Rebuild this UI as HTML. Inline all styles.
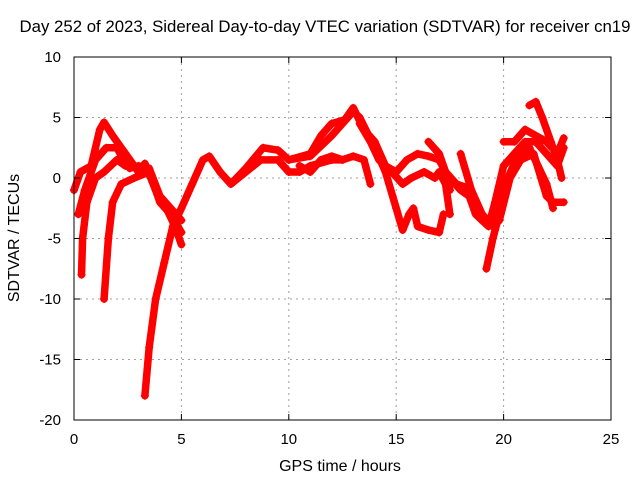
<!DOCTYPE html>
<html><head><meta charset="utf-8"><style>
body{margin:0;background:#fff}
svg{display:block;font-family:"Liberation Sans",sans-serif;font-size:15px}
</style></head><body>
<svg id="chart" width="640" height="480" viewBox="0 0 640 480">
<rect width="640" height="480" fill="#fff"/>
<text x="325" y="32" text-anchor="middle" font-size="16.8" textLength="611" lengthAdjust="spacingAndGlyphs">Day 252 of 2023, Sidereal Day-to-day VTEC variation (SDTVAR) for receiver cn19</text>
<g id="grid"></g>
<g id="series"></g>
<rect x="74" y="57" width="537" height="363" fill="none" stroke="#000" stroke-width="1"/>
<g id="axes"></g>
<text x="340" y="471" text-anchor="middle" font-size="16">GPS time / hours</text>
<text x="19" y="238" text-anchor="middle" font-size="16" transform="rotate(-90 19 238)">SDTVAR / TECUs</text>
</svg>
<script>
const xTicks=[0,5,10,15,20,25];
const yTicks=[-20,-15,-10,-5,0,5,10];
const track1=[[0,-1],[0.3,0.5],[0.8,1],[1.2,4],[1.4,4.6],[1.8,3.5],[2.2,2.5],[2.6,1.5],[3.0,0.5],[3.3,1.2],[3.8,-1],[4.3,-2.5],[4.7,-4],[5,-5.5]];
const track2=[[0.2,-3],[0.5,-1],[1.0,1.5],[1.5,2.5],[2.0,2.5],[2.3,1.5],[2.6,0.8],[3.0,1],[3.5,0.8],[4,-1.5],[4.5,-2.5],[5,-3.5]];
const track3=[[0.35,-8],[0.4,-5],[0.6,-2],[1.0,0],[1.4,0.5],[2,1.5],[2.4,1]];
const track4=[[1.4,-10],[1.6,-5],[1.8,-2],[2.2,-0.5],[2.8,0],[3.5,0.5],[4,-2],[4.5,-3],[5,-4.5]];
const track5=[[3.3,-18],[3.5,-14],[3.8,-10],[4.2,-7],[4.6,-4],[5,-2.5],[5.5,-0.5],[6,1.5],[6.3,1.8],[6.8,0.5],[7.3,-0.5],[8,0.5],[8.7,1.5],[9.5,1.5],[10,0.5],[10.5,0.5],[11,1],[12,1.5],[12.5,1.5]];
const track6=[[7.3,-0.5],[8,0.8],[8.8,2.5],[9.5,2.3],[10,1.5],[11,1.8],[12,3.5],[12.5,4.5],[13,5.5],[13.3,5],[14,2.5],[14.5,0.5],[15,-2.5],[15.3,-4.3],[15.6,-3],[15.8,-2.5],[16,-4],[16.5,-4.3],[17,-4.5],[17.2,-3]];
const track7=[[10,1.5],[11,2],[11.5,3.5],[12,4.5],[12.6,4.8],[13,5.8],[13.5,4],[14,3],[14.5,1],[15,0.5],[15.5,1.5],[16,2],[16.5,1.8],[17,1.5],[17.3,0.5],[17.5,-1]];
const track8=[[10.5,1],[11,0.5],[11.5,1.5],[12,1.8],[12.5,1.5],[13,1.8],[13.5,1.5],[13.8,-0.5]];
const track9=[[13.3,4.5],[13.8,3],[14.2,1.5],[14.8,0.5],[15.3,-0.5],[15.7,0],[16.3,0.5],[16.8,0],[17,0.5],[17.3,-0.5],[17.5,-3]];
const track10=[[16.5,3],[17,2],[17.3,0.5],[17.8,-0.5],[18.3,-0.8]];
const track11=[[17.5,0],[18,-1],[18.4,-1.5],[18.7,-3],[19,-3.5],[19.3,-4],[19.6,-2],[20,1],[20.5,2],[21,3],[21.5,3],[22,2],[22.5,1],[22.8,2.5]];
const track12=[[18,2],[18.5,-1],[19,-3],[19.5,-4],[19.8,-3.5],[20.3,0],[20.8,1.5],[21.4,2],[22,-1.5],[22.3,-2],[22.8,-2]];
const track13=[[19.2,-7.5],[19.5,-5],[19.8,-3],[20.2,0],[20.7,2],[21.2,2.5],[21.6,1],[22,-0.5],[22.3,-2.5]];
const track14=[[21.2,6],[21.5,6.3],[21.8,5],[22.2,3],[22.5,1.5],[22.7,0]];
const track15=[[20,3],[20.5,3],[21,4],[21.5,3.5],[22,3],[22.5,2],[22.8,3.3]];
const tracks=[track1,track2,track3,track4,track5,track6,track7,track8,track9,track10,track11,track12,track13,track14,track15];
const NS='http://www.w3.org/2000/svg';
const X0=74,X1=611,Y0=420,Y1=57;
function xs(t){return X0+(t-0)/(25-0)*(X1-X0);}
function ys(v){return Y0-(v+20)/(10+20)*(Y0-Y1);}
const grid=document.getElementById('grid'),axes=document.getElementById('axes'),series=document.getElementById('series');
function mk(tag,attrs,parent){const e=document.createElementNS(NS,tag);for(const k in attrs)e.setAttribute(k,attrs[k]);parent.appendChild(e);return e;}
xTicks.forEach(t=>{
  const x=xs(t);
  if(t>0&&t<25){const g=mk('line',{x1:x,x2:x,y1:Y1,y2:Y0,stroke:'#a0a0a0','stroke-dasharray':'2,4'},grid);
  
  }
  mk('line',{x1:x,x2:x,y1:Y0,y2:Y0-6,stroke:'#000'},axes);
  mk('line',{x1:x,x2:x,y1:Y1,y2:Y1+6,stroke:'#000'},axes);
  const l=mk('text',{x:x,y:Y0+24,'text-anchor':'middle'},axes);l.textContent=t;
  
  
});
yTicks.forEach(v=>{
  const y=ys(v);
  if(v>-20&&v<10){const g=mk('line',{x1:X0,x2:X1,y1:y,y2:y,stroke:'#a0a0a0','stroke-dasharray':'2,4'},grid);
  
  }
  mk('line',{x1:X0,x2:X0+6,y1:y,y2:y,stroke:'#000'},axes);
  mk('line',{x1:X1,x2:X1-6,y1:y,y2:y,stroke:'#000'},axes);
  const l=mk('text',{x:X0-13,y:y+5,'text-anchor':'end'},axes);l.textContent=v;
  
  
});
tracks.forEach((tr,i)=>{
  const p=mk('polyline',{points:tr.map(d=>xs(d[0])+','+ys(d[1])).join(' '),fill:'none',stroke:'#ff0000','stroke-width':7.5,'stroke-linejoin':'round','stroke-linecap':'round'},series);
  
  
  tr.forEach(d=>{
    const x=xs(d[0]),y=ys(d[1]);
    const m=mk('path',{d:`M${x-4},${y}H${x+4}M${x},${y-4}V${y+4}`,stroke:'#ff0000','stroke-width':1.5},series);
    
    
  });
});
</script>
</body></html>
